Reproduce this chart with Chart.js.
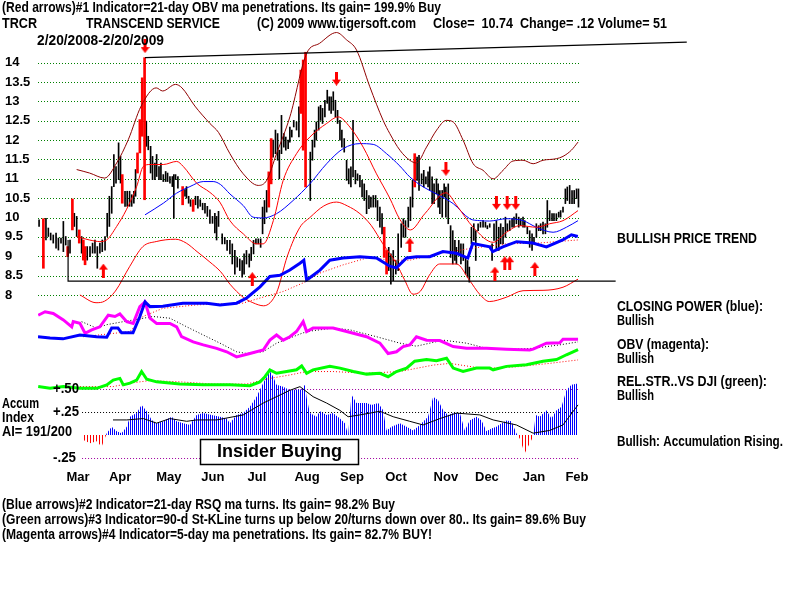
<!DOCTYPE html>
<html>
<head>
<meta charset="utf-8">
<script src="https://cdn.jsdelivr.net/npm/chart.js@4.4.1/dist/chart.umd.min.js"></script>
<style>
  body { margin: 0; background: #fff; }
  canvas { display: block; }
</style>
</head>
<body>
<canvas id="c" width="800" height="600"></canvas>
<script>
// --- price bars: [trading day, high, low] ---
const blackBars = [
  [0.5,9.94,9.77],[3.7,9.98,9.42],[4.8,9.73,9.51],[5.9,9.60,9.42],[7.1,9.55,9.34],[8.4,9.60,9.21],[9.5,9.47,9.16],[10.7,9.47,9.34],
  [11.8,9.90,9.12],[12.9,9.51,9.29],[14.9,9.42,9.08],[16.9,10.11,9.77],[18,10.03,9.51],[20.3,9.51,9.08],[22.9,9.25,8.90],[24.2,9.25,8.99],
  [25.4,9.34,9.08],[26.5,9.42,9.08],[27.6,9.25,8.69],[28.8,9.34,9.08],[29.9,9.42,9.12],[31.2,9.51,9.16],[32.2,10.11,9.51],[33.2,10.55,9.77],
  [34.3,10.80,10.11],[35.3,11.63,10.80],[36.3,11.32,10.89],[37.5,11.93,10.98],[38.4,11.58,10.89],[40.5,10.68,10.29],[41.5,10.68,10.29],
  [42.6,10.68,10.29],[43.6,10.59,10.29],[44.6,10.68,10.37],[45.4,11.24,10.55],[50.4,12.49,11.84],[51.3,12.10,11.75],[52.4,11.84,11.15],
  [53.3,11.58,10.98],[54.4,11.41,10.98],[55.2,11.63,11.06],[56.3,11.32,10.98],[57.2,11.41,10.98],[58.3,11.11,10.93],[59.4,11.19,10.93],
  [60.3,11.15,10.93],[61.4,11.06,10.89],[62.5,11.06,10.80],[63.2,11.11,9.98],[64,11.11,10.98],[65.1,11.06,10.76],[68.4,10.72,10.55],
  [69.1,10.80,10.50],[70.1,10.55,10.37],[71,10.46,10.29],[73.3,10.55,10.33],[74.4,10.55,10.24],[75.5,10.46,10.29],[76.6,10.37,10.20],
  [77.7,10.37,10.11],[78.8,10.29,10.03],[80,10.20,9.85],[81.2,10.03,9.85],[82.3,10.11,9.60],[83.1,10.03,9.42],[84,10.16,9.77],
  [85.7,9.58,9.32],[86.9,9.49,9.32],[88,9.41,9.15],[89.3,9.41,9.06],[90.4,9.32,8.80],[91.6,9.15,8.54],[92.7,8.97,8.72],[93.9,8.93,8.63],
  [95,8.89,8.46],[95.9,9.06,8.54],[97,9.15,8.80],[98.3,9.06,8.72],[99.2,9.23,8.89],[100.3,9.41,9.06],[101.4,9.45,9.32],[102.5,9.45,9.32],
  [103.6,9.45,9.23],[104.5,10.27,9.58],[105.4,10.44,9.84],[106.4,10.70,10.14],[109.4,12.00,11.56],[110.5,12.26,11.65],[111.5,12.17,11.48],
  [112.3,11.74,11.00],[113.3,12.64,11.65],[114.4,12.17,11.82],[115.3,12.08,11.74],[116.4,12.00,11.78],[117.2,12.34,11.95],[118.1,12.26,12.08],
  [119,12.51,12.34],[120.3,12.47,12.26],[121.4,12.86,12.08],[126.7,11.69,10.44],[127.7,12.00,11.48],[128.7,12.26,11.82],[129.5,12.47,12.00],
  [130.6,12.86,12.26],[131.5,12.90,12.51],[132.4,12.82,12.43],[133.5,13.03,12.60],[134.6,13.29,12.95],[135.5,13.12,12.77],[136.4,13.12,12.69],
  [137.4,13.25,12.77],[138.4,13.03,12.60],[139.4,12.77,12.43],[140.5,12.51,12.00],[141.4,12.26,11.82],[142.5,12.04,11.69],[143.6,11.48,10.96],
  [144.6,11.26,10.87],[145.6,11.31,10.79],[146.6,12.51,11.05],[147.7,11.22,10.87],[148.7,11.13,10.96],[149.8,11.09,10.79],[150.8,10.96,10.53],
  [151.8,10.87,10.44],[152.9,10.70,10.10],[154,10.57,10.23],[154.9,10.53,10.27],[156,10.57,10.27],[157.1,10.57,10.27],[158,10.44,9.92],
  [159.1,10.27,9.75],[160.1,10.10,9.58],[163.2,9.23,8.63],[164.2,9.06,8.28],[165.3,9.15,8.37],[166.5,8.89,8.54],[167.6,9.58,8.63],
  [169,9.84,9.23],[170,9.97,9.49],[171,9.92,9.49],[172.3,10.27,9.75],[173.3,10.53,9.92],[174.3,10.96,10.27],[176.4,11.56,10.96],
  [177.3,11.61,10.70],[178.5,11.13,10.87],[179.5,11.22,10.79],[180.5,11.05,10.87],[181.5,11.18,10.79],[182.3,11.31,10.70],[183.4,11.05,10.36],
  [184.3,10.87,10.36],[185.4,11.00,10.61],[186.2,10.87,10.27],[187,10.70,10.10],[188.1,10.70,10.01],[189,10.87,10.53],[189.8,10.79,10.01],
  [190.9,10.87,9.84],[192,9.79,8.97],[193,9.66,8.80],[194,9.41,8.89],[194.7,9.23,8.80],[195.8,9.41,9.06],[196.8,9.32,8.80],[197.9,9.32,8.89],
  [199,8.97,8.54],[199.9,8.89,8.46],[200.7,8.72,8.33],[201.7,9.75,9.32],[202.8,9.84,9.41],[203.7,9.66,8.89],[204.8,9.84,9.66],[205.9,9.88,9.75],
  [207.1,9.92,9.75],[208.2,9.88,9.75],[209.1,9.79,9.71],[210.2,9.84,9.75],[211.3,9.32,8.89],[212.2,9.84,9.41],[213.3,9.92,9.15],[214.4,9.75,9.15],
  [215.3,9.84,9.32],[216.4,9.75,9.32],[217.5,10.01,9.49],[218.4,9.84,9.66],[219.5,9.92,9.66],[220.6,9.97,9.75],[221.5,10.01,9.75],[222.6,10.10,9.84],
  [223.7,10.01,9.75],[224.6,9.97,9.79],[225.7,10.01,9.75],[226.5,9.92,9.75],[227.7,9.75,9.58],[228.8,9.66,9.23],[229.9,9.58,9.15],[230.8,9.49,9.32],
  [231.9,9.84,9.49],[233,9.79,9.66],[233.9,9.84,9.66],[235,9.88,9.58],[236.1,9.84,9.58],[237,10.44,9.75],[238.1,10.18,9.92],[239.2,10.10,9.92],
  [240.1,10.10,9.92],[241.2,10.10,9.92],[242.3,10.14,10.01],[243.2,10.18,10.01],[244.3,10.27,10.14],[245.4,10.74,10.36],[246.3,10.79,10.44],
  [247.4,10.83,10.36],[248.5,10.70,10.36],[249.5,10.70,10.36],[250.6,10.74,10.49],[251.5,10.74,10.27]
];
const redBars = [
  [2.5,9.97,8.69],[13.8,9.25,8.99],[16,10.48,9.68],[19.2,9.68,9.34],[21.1,9.42,8.90],[21.9,9.25,8.78],[39.2,11.11,10.37],
  [46.3,11.67,11.15],[47.4,12.53,11.67],[48.5,13.61,12.10],[49.6,14.13,10.46],[67.3,10.80,10.33],[72.2,10.46,10.16],
  [107.4,11.18,10.27],[108.5,12.04,10.87],[122.3,13.81,12.69],[123.4,14.07,11.74],[124.5,14.27,10.79],[161.1,9.75,8.97],
  [162.2,9.15,8.54],[175.3,11.65,10.79]
];

// --- price bands: [trading day, price] ---
const outerBand = [
  [18,11.24],[24,11.15],[31,11.02],[36.6,11.41],[42,12.01],[48,12.88],[55,13.35],[58,13.27],[64,13.44],[67,13.35],[73,12.88],
  [80,12.43],[84,12.2],[89.3,11.65],[95.5,11.13],[102.5,10.83],[106.4,10.96],[111,11.65],[117.2,12.6],[125,14.24],[131,14.5],
  [138.9,14.78],[143.6,14.59],[148.2,14.33],[154.4,13.38],[160.6,12.51],[163.7,12.17],[168.4,11.74],[173,11.48],[176.1,11.41],
  [180.8,11.82],[185.5,12.26],[190,12.51],[193.2,12.47],[197.8,12.0],[202.5,11.39],[207.1,11.22],[211.8,11.0],[216.4,11.22],
  [221,11.46],[225.7,11.48],[230.4,11.39],[235,11.48],[241.2,11.52],[244.3,11.58],[248.2,11.74],[251.3,11.95]
];
const upperBand = [
  [18,9.51],[24,9.42],[28.8,9.38],[31.9,9.42],[36.6,9.77],[41.1,10.2],[45.9,10.8],[49,11.32],[52.1,11.37],[58.3,11.37],
  [64.5,11.45],[67.6,11.32],[73.8,10.89],[80,10.65],[84.6,10.4],[89.3,9.92],[95.5,9.58],[101.7,9.32],[104.8,9.32],[109.5,9.92],
  [114.1,10.96],[120.3,11.65],[126.5,12.08],[134.3,12.43],[139.7,12.60],[145.1,12.34],[151.3,11.82],[157.5,11.13],[163.7,10.5],
  [168.4,9.95],[173.3,9.68],[180,10.1],[189.8,10.64],[195,10.3],[202.5,9.75],[211.8,9.36],[218,9.62],[224.2,9.79],[232,9.75],
  [238.1,9.84],[244.3,9.92],[251.3,10.18]
];
const lowerBand = [
  [19.5,8.0],[27,7.8],[31,7.84],[36,8.1],[42.6,8.73],[48.8,9.25],[55,9.38],[64,9.44],[69,9.34],[74,9.12],[80,8.85],[85,8.6],
  [89.3,8.28],[95.5,7.94],[100,7.8],[105,7.72],[111,8.06],[116,9.0],[121.9,9.75],[126.5,10.0],[133,10.3],[138.9,10.40],[144,10.3],
  [149.8,10.10],[155,9.8],[160.5,9.32],[166.8,8.81],[170.5,8.4],[174.5,8.02],[178,8.1],[182,8.5],[186.9,8.80],[194.7,8.80],
  [200.9,8.37],[205.5,8.02],[210,7.83],[217.9,7.94],[225.7,8.11],[235,8.12],[244.3,8.20],[251.3,8.41]
];
const maLine = [
  [49.8,10.07],[58.3,10.37],[64.5,10.63],[70.7,10.80],[76.9,10.93],[81.5,10.93],[85,10.85],[89.3,10.61],[95.5,10.31],[100.1,10.01],
  [104.8,9.99],[111,10.10],[118.7,10.44],[126.5,10.87],[134.3,11.39],[142,11.78],[149.8,11.91],[156,11.89],[162.2,11.65],[168.4,11.33],
  [173,11.05],[179.3,10.79],[185.4,10.61],[193.2,10.36],[200.9,9.97],[205.6,9.92],[210.2,9.91],[218,9.97],[225.7,9.92],[231.9,9.75],
  [239.7,9.62],[245.9,9.75],[251.3,9.92]
];
const supportLine = [[14,9.42],[14,8.36],[268.8,8.36]];
const resistLine = [[49.8,14.13],[301.9,14.53]];
const buyArrows = [[30.4,8.63],[99.7,8.41],[173,9.30],[212.6,8.55],[217.2,8.82],[219.5,8.82],[231.2,8.67]];
const sellArrows = [[49.8,14.43],[138.9,13.59],[189.8,11.26],[213.3,10.38],[218.3,10.38],[222.3,10.38]];

// --- indicators (relative units 0-100) ---
const closingPower = [
  [0,31.0],[5.6,30.7],[11.6,30.5],[19.5,31.4],[27.3,31.0],[32,30.9],[34.3,33.0],[37.2,33.0],[38.9,31.9],[44.2,31.9],[47.4,35.7],
  [49.8,39.1],[52.1,38.0],[58.1,38.1],[67.4,38.8],[78.5,38.8],[84.7,38.4],[92.4,38.8],[97.1,40.0],[103.3,42.6],[107.9,45.0],
  [112.6,45.3],[117.2,46.5],[121.9,48.1],[123.7,48.8],[125,44.2],[126.5,44.7],[131.2,46.5],[135.8,48.8],[141.9,49.3],[149.8,49.6],
  [157.5,49.3],[163.7,47.4],[166.8,47.0],[171.5,49.3],[176.1,49.6],[182.3,49.6],[188.4,50.8],[194.7,50.4],[200,49.3],[202.3,52.7],
  [210.2,51.9],[211.6,50.8],[216.3,51.9],[222.7,53.1],[230.2,52.8],[236.6,51.9],[244.2,53.5],[248.2,54.7],[251.2,54.3]
];
const cpAverage = [
  [21,31.0],[42.8,32.2],[48.8,35.7],[58.1,37.6],[73.8,38.4],[95.3,38.8],[104.7,40.2],[114,41.5],[123.3,43.5],[131.2,45.8],
  [141.9,47.7],[154.4,49.5],[163.7,48.8],[173,48.8],[187,50.4],[202.3,51.6],[218,52.6],[233.5,52.8],[251.2,53.5]
];
const obv = [
  [0.1,36.0],[3.3,36.8],[7.1,36.4],[11.8,34.9],[15.7,33.3],[16.4,34.5],[19.5,34.1],[21.9,31.8],[25,32.6],[28.8,33.3],[32.7,36.0],
  [35.8,35.7],[38.1,36.3],[41.3,34.5],[44.3,34.1],[47.4,38.0],[49.8,39.1],[52.1,35.3],[55.2,34.1],[61.4,34.1],[64.5,33.3],[66.8,31.0],
  [72.2,29.8],[76.9,29.1],[83.1,28.3],[87.8,27.5],[92.4,26.3],[98.6,27.1],[104.8,27.9],[107.9,30.2],[111,31.4],[114.1,30.2],[117.2,31.0],
  [120.3,32.2],[123.4,34.5],[125,32.2],[128,33.0],[137.3,33.0],[143.6,32.2],[152.9,31.0],[159.1,29.5],[162.9,27.1],[166.8,27.5],
  [169.9,28.7],[173,29.1],[176.1,31.0],[180.8,30.2],[187,30.1],[193.2,28.7],[199.4,28.3],[208.7,28.3],[218,28.1],[228.8,27.9],
  [230.4,28.1],[236.6,29.5],[242.8,29.6],[244.3,30.4],[251.3,30.4]
];
const obvAverage = [
  [20.3,34.5],[27.3,33.0],[32,33.8],[39.7,34.5],[49,35.3],[53.6,35.7],[61.4,35.3],[69.2,33.3],[76.9,31.4],[84.7,29.5],[92.4,27.5],
  [97.1,27.1],[104.8,27.5],[111,29.5],[118.7,31.0],[125,32.2],[137.3,33.0],[145.1,32.6],[157.5,31.0],[168.4,29.5],[176.1,28.8],
  [188.5,30.2],[199.4,29.5],[208.7,28.3],[221.1,28.1],[230.4,28.3],[242.8,29.1],[251.3,29.8]
];
const relStrength = [
  [0.1,19.4],[5.6,19.0],[11.8,19.4],[19.5,19.0],[27.3,19.0],[32,19.8],[35,20.9],[38.1,21.3],[39.7,19.8],[42.8,20.2],[45.9,20.9],
  [48.2,22.9],[50.6,21.1],[55.2,20.5],[66,20.0],[76.9,19.8],[89.3,19.8],[98.6,19.6],[103.3,20.5],[105.6,21.7],[107.9,23.3],[111,22.5],
  [115.7,22.9],[120.3,23.3],[122.7,24.2],[125,22.5],[128,23.3],[135.8,24.1],[140.5,23.7],[146.7,22.9],[152.9,22.3],[159.1,22.5],
  [162.9,21.7],[166.8,22.9],[171.5,23.7],[175.3,25.3],[180.8,25.7],[185.4,25.4],[190.1,26.0],[193.2,23.7],[197.8,22.9],[204,23.7],
  [210.2,23.7],[211.8,23.3],[218,24.1],[227.3,24.5],[235,25.3],[241.3,25.7],[245.9,26.8],[251.3,28.0]
];
const relStrAverage = [
  [19.5,19.4],[35,19.4],[42.8,20.2],[52.1,20.8],[66,20.5],[81.5,20.0],[97.1,20.0],[107.9,21.3],[117.2,22.1],[125,22.9],[137.3,22.9],
  [152.9,22.5],[168.4,22.9],[183.9,24.4],[191.6,24.8],[207.1,23.6],[222.7,24.0],[238.1,24.8],[251.3,25.6]
];

// --- Accumulation Index ---
const accumIndex = [
  [21.1,-0.055],[24.2,-0.09],[27.3,-0.07],[29.6,-0.13],[32,0.02],[34.3,0.09],[36.6,0.04],[38.9,0.02],[41.3,0.09],[42.8,0.20],
  [45.9,0.24],[48.2,0.33],[50.6,0.26],[52.9,0.165],[55.2,0.13],[58.3,0.15],[62.2,0.20],[64.5,0.15],[67.6,0.13],[70.7,0.11],
  [73.8,0.22],[76.9,0.24],[80.8,0.22],[84.7,0.20],[87.8,0.18],[89.3,0.13],[92.4,0.22],[95.5,0.24],[98.6,0.31],[101.7,0.42],
  [104.8,0.57],[107.9,0.70],[109.4,0.64],[111,0.55],[114.1,0.53],[117.2,0.49],[120.3,0.50],[122.7,0.50],[124.2,0.55],[125.1,0.40],
  [126.5,0.24],[129.6,0.20],[131.2,0.26],[134.3,0.22],[137.3,0.24],[140.5,0.18],[142.8,0.13],[144.3,0.0],[145.9,0.44],[148.2,0.35],
  [152.9,0.35],[155.2,0.33],[158.3,0.35],[160.6,0.27],[162.2,0.05],[164.5,0.09],[168.4,0.13],[171.5,0.09],[174.6,0.05],[177.7,0.11],
  [181.5,0.20],[183.9,0.42],[186.2,0.38],[188.5,0.27],[190.8,0.22],[193.2,0.24],[196.3,0.24],[198.6,0.05],[200.9,0.16],[204,0.20],
  [206.4,0.16],[208.7,0.04],[211,0.07],[213.3,0.09],[215.7,0.13],[218,0.16],[220.3,0.15],[222.6,0.02],[224.2,-0.04],[226.5,-0.20],
  [228.8,-0.09],[230.4,-0.02],[231.6,0.22],[233.5,0.20],[236.6,0.27],[238.9,0.18],[241.3,0.27],[243.6,0.31],[245.9,0.49],[248.2,0.55],
  [251.3,0.566]
];
const accumAverage = [
  [34.9,0.165],[41.3,0.165],[49,0.18],[55.2,0.13],[61.4,0.18],[69.2,0.15],[73.8,0.165],[83.1,0.165],[95.5,0.22],[104.8,0.35],
  [111,0.42],[117.2,0.49],[121.9,0.53],[128,0.42],[134.3,0.35],[140.5,0.27],[144.3,0.20],[149.8,0.22],[159.1,0.26],[165.3,0.20],
  [173,0.15],[179.2,0.11],[187,0.18],[194.7,0.24],[205.6,0.22],[211.8,0.165],[222.6,0.11],[230.4,0.02],[238.1,0.05],[244.3,0.11],
  [251.3,0.33]
];
const aiLevels = [0.5, 0.25, -0.25];
const aiLevelLabels = ['+.50', '+.25', '-.25'];

// --- axes ---
const priceTicks = [8, 8.5, 9, 9.5, 10, 10.5, 11, 11.5, 12, 12.5, 13, 13.5, 14];
const monthDays = [18.6, 38.2, 60.9, 81.4, 101.9, 125.2, 146.1, 166.6, 189.8, 208.9, 230.8, 250.8];
const monthNames = ['Mar', 'Apr', 'May', 'Jun', 'Jul', 'Aug', 'Sep', 'Oct', 'Nov', 'Dec', 'Jan', 'Feb'];

const SANS = '"Liberation Sans", Arial, sans-serif';
const pts = a => a.map(([x, y]) => ({ x, y }));
const hl = a => a.map(([x, hi, lo]) => ({ x, y: [lo, hi] }));

const ctx = document.getElementById('c').getContext('2d');

function stripes(color, period) {
  const c = document.createElement('canvas');
  c.width = period; c.height = 1;
  const g = c.getContext('2d');
  g.fillStyle = color;
  g.fillRect(0, 0, 1, 1);
  return ctx.createPattern(c, 'repeat');
}

function arrow(up) {
  const c = document.createElement('canvas');
  c.width = 9; c.height = 14;
  const g = c.getContext('2d');
  g.fillStyle = '#ff0000';
  g.beginPath();
  if (up) {
    g.moveTo(4.5, 0); g.lineTo(9, 6); g.lineTo(0, 6);
    g.fill(); g.fillRect(3, 5, 3, 9);
  } else {
    g.moveTo(4.5, 14); g.lineTo(9, 8); g.lineTo(0, 8);
    g.fill(); g.fillRect(3, 0, 3, 9);
  }
  return c;
}

function line(data, color, width, yAxisID, extra) {
  return Object.assign({
    type: 'line', data: pts(data), borderColor: color, borderWidth: width,
    pointRadius: 0, fill: false, tension: 0, yAxisID: yAxisID
  }, extra || {});
}

// condensed bitmap-like font: squeeze text horizontally to the original width
function fitText(c, str, x, y, w) {
  const m = c.measureText(str).width;
  c.save();
  c.translate(x, y);
  c.scale(w / m, 1);
  c.fillText(str, 0, 0);
  c.restore();
}

const labels = [
  ['(Red arrows)#1 Indicator=21-day OBV ma penetrations. Its gain= 199.9% Buy', 2, 8, 439],
  ['TRCR', 2, 24, 35],
  ['TRANSCEND SERVICE', 86, 24, 134],
  ['(C) 2009 www.tigersoft.com', 257, 24, 159],
  ['Close=  10.74  Change= .12 Volume= 51', 433, 24, 234],
  ['2/20/2008-2/20/2009', 37, 41, 127],
  ['BULLISH PRICE TREND', 617, 239, 140],
  ['CLOSING POWER (blue):', 617, 307, 146],
  ['Bullish', 617, 321, 37],
  ['OBV (magenta):', 617, 345, 92],
  ['Bullish', 617, 359, 37],
  ['REL.STR..VS DJI (green):', 617, 382, 150],
  ['Bullish', 617, 396, 37],
  ['Bullish: Accumulation Rising.', 617, 442, 166],
  ['Accum', 2, 404, 37],
  ['Index', 2, 418, 32],
  ['AI= 191/200', 2, 432, 70],
  ['(Blue arrows)#2 Indicator=21-day RSQ ma turns. Its gain= 98.2% Buy', 2, 505, 393],
  ['(Green arrows)#3 Indicator=90-d St-KLine turns up below 20/turns down over 80.. Its gain= 89.6% Buy', 2, 520, 584],
  ['(Magenta arrows)#4 Indicator=5-day ma penetrations. Its gain= 82.7% BUY!', 2, 535, 430]
];

const overlay = {
  id: 'overlay',
  beforeDatasetsDraw(chart) {
    const c = chart.ctx, x = chart.scales.x, y = chart.scales.y, ai = chart.scales.ai;
    const x0 = x.getPixelForValue(0), x1 = x.getPixelForValue(252);
    c.save();
    c.lineWidth = 1;
    c.setLineDash([1, 2]);
    c.strokeStyle = '#008000';
    priceTicks.forEach(v => {
      const py = Math.round(y.getPixelForValue(v)) + 0.5;
      c.beginPath(); c.moveTo(x0, py); c.lineTo(x1, py); c.stroke();
    });
    const ax0 = x.getPixelForValue(20.5);
    aiLevels.forEach((v, i) => {
      const py = Math.round(ai.getPixelForValue(v)) + 0.5;
      c.strokeStyle = i === 1 ? '#000000' : '#a000a0';
      c.beginPath(); c.moveTo(ax0, py); c.lineTo(x1, py); c.stroke();
    });
    c.restore();
  },
  afterDraw(chart) {
    const c = chart.ctx, ai = chart.scales.ai;
    c.save();
    c.fillStyle = '#000';
    c.textBaseline = 'middle';
    c.font = 'bold 14px ' + SANS;
    labels.forEach(([s, x, y, w]) => fitText(c, s, x, y, w));
    aiLevels.forEach((v, i) => fitText(c, aiLevelLabels[i], 53, ai.getPixelForValue(v), i === 2 ? 23 : 26));

    // Insider Buying box
    c.fillStyle = '#fff';
    c.fillRect(200.5, 439.5, 158, 25);
    c.lineWidth = 1.5;
    c.strokeStyle = '#000';
    c.strokeRect(200.5, 439.5, 158, 25);
    c.fillStyle = '#000';
    c.font = 'bold 18px ' + SANS;
    c.textAlign = 'center';
    c.fillText('Insider Buying', 279.5, 452.5);
    c.restore();
  }
};

new Chart(ctx, {
  type: 'line',
  data: {
    datasets: [
      { type: 'scatter', data: pts(buyArrows), pointStyle: arrow(true), pointRadius: 7, yAxisID: 'y', order: 0 },
      { type: 'scatter', data: pts(sellArrows), pointStyle: arrow(false), pointRadius: 7, yAxisID: 'y', order: 0 },
      line(resistLine, '#000000', 1.2, 'y', { order: 1, clip: false }),
      line(supportLine, '#000000', 1.2, 'y', { order: 1 }),
      line(closingPower, '#0000ff', 3, 'ind', { order: 2 }),
      line(cpAverage, '#ff0000', 1, 'ind', { order: 3, borderDash: [1, 2] }),
      line(obv, '#ff00ff', 3, 'ind', { order: 2 }),
      line(obvAverage, '#000000', 1, 'ind', { order: 3, borderDash: [1, 2] }),
      line(relStrength, '#00ff00', 3, 'ind', { order: 2 }),
      line(relStrAverage, '#ff0000', 1, 'ind', { order: 3, borderDash: [1, 2] }),
      line(accumAverage, '#000000', 1, 'ai', { order: 4 }),
      line(accumIndex, 'rgba(0,0,0,0)', 0, 'ai', {
        order: 5, fill: { target: 'origin', above: stripes('#0000ff', 2), below: stripes('#ff0000', 3) }
      }),
      line(outerBand, '#900000', 1, 'y', { order: 6, cubicInterpolationMode: 'monotone', clip: false }),
      line(upperBand, '#ff0000', 1, 'y', { order: 6, cubicInterpolationMode: 'monotone' }),
      line(lowerBand, '#ff0000', 1, 'y', { order: 6, cubicInterpolationMode: 'monotone' }),
      line(maLine, '#0000ff', 1, 'y', { order: 6, cubicInterpolationMode: 'monotone' }),
      { type: 'bar', data: hl(redBars), backgroundColor: '#ff0000', barThickness: 2, grouped: false, yAxisID: 'y', order: 7 },
      { type: 'bar', data: hl(blackBars), backgroundColor: '#000000', barThickness: 1, grouped: false, yAxisID: 'y', order: 8 }
    ]
  },
  options: {
    responsive: false,
    animation: false,
    devicePixelRatio: 1,
    layout: { padding: { top: 28, right: 113, left: 5, bottom: 0 } },
    plugins: { legend: { display: false }, tooltip: { enabled: false } },
    scales: {
      x: {
        type: 'linear', min: 0, max: 302, offset: false,
        grid: { display: false, drawTicks: false, offset: false }, border: { display: false },
        afterBuildTicks: s => { s.ticks = monthDays.map(v => ({ value: v })); },
        afterFit: s => { s.height = 130; },
        ticks: {
          autoSkip: false, maxRotation: 0, padding: 0, color: '#000',
          font: { family: SANS, size: 13, weight: 'bold' },
          callback: (v, i) => monthNames[i]
        }
      },
      y: {
        position: 'left', min: 3.478, max: 14.897,
        grid: { display: false }, border: { display: false },
        afterBuildTicks: s => { s.ticks = priceTicks.map(v => ({ value: v })); },
        afterFit: s => { s.width = 33; },
        ticks: {
          crossAlign: 'far', padding: 0, color: '#000',
          font: { family: SANS, size: 13, weight: 'bold' },
          callback: v => String(v)
        }
      },
      ai: { display: false, min: -0.384, max: 4.463 },
      ind: { display: false, min: 0, max: 102.8 }
    }
  },
  plugins: [overlay]
});
</script>
</body>
</html>
